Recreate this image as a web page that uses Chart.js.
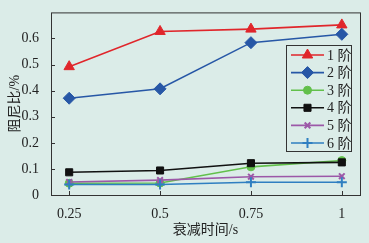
<!DOCTYPE html>
<html>
<head>
<meta charset="utf-8">
<script src="https://cdn.jsdelivr.net/npm/chart.js@4"></script>
<style>
  html, body { margin: 0; padding: 0; background: #dbece8; }
  #wrap { width: 369px; height: 243px; position: relative; }
</style>
</head>
<body>
<div id="wrap"><canvas id="chart"></canvas></div>
<script>
const times = [0.25, 0.5, 0.75, 1];
const xTicks = [0.25, 0.5, 0.75, 1];
const yTicks = [0, 0.1, 0.2, 0.3, 0.4, 0.5, 0.6];
const mode1 = [0.492, 0.627, 0.636, 0.652];
const mode2 = [0.371, 0.407, 0.584, 0.616];
const mode3 = [0.045, 0.046, 0.108, 0.132];
const mode4 = [0.087, 0.094, 0.122, 0.125];
const mode5 = [0.050, 0.057, 0.070, 0.072];
const mode6 = [0.040, 0.040, 0.049, 0.049];
const seriesNames = ['1 阶', '2 阶', '3 阶', '4 阶', '5 阶', '6 阶'];

const serif = '"Liberation Serif", "Noto Sans CJK SC", serif';

function toPoints(arr) {
  return arr.map((v, i) => ({ x: times[i], y: v }));
}

function makeSet(i, data, color, style, r) {
  return {
    label: seriesNames[i],
    data: toPoints(data),
    borderColor: color,
    backgroundColor: color,
    pointStyle: style,
    pointRadius: r,
    pointBorderWidth: style === 'cross' || style === 'crossRot' ? 2 : 1,
    borderWidth: 1.6,
    order: 6 - i   // later series on top
  };
}

// frame, inward ticks and legend box
const framePlugin = {
  id: 'frame',
  afterDraw(chart) {
    const ctx = chart.ctx;
    const a = chart.chartArea;
    const xs = chart.scales.x, ys = chart.scales.y;
    ctx.save();
    ctx.strokeStyle = '#333';
    ctx.lineWidth = 1;
    ctx.strokeRect(a.left + 0.5, a.top + 0.5, a.right - a.left, a.bottom - a.top);
    xTicks.forEach(t => {
      const px = Math.round(xs.getPixelForValue(t)) + 0.5;
      ctx.beginPath(); ctx.moveTo(px, a.bottom); ctx.lineTo(px, a.bottom - 4); ctx.stroke();
    });
    yTicks.forEach(t => {
      const py = Math.round(ys.getPixelForValue(t)) + 0.5;
      ctx.beginPath(); ctx.moveTo(a.left, py); ctx.lineTo(a.left + 4, py); ctx.stroke();
    });

    // legend
    const lx = 286, ly = 45, lw = 65, lh = 106;
    ctx.fillStyle = '#dbece8';
    ctx.fillRect(lx, ly, lw, lh);
    ctx.strokeStyle = '#333';
    ctx.strokeRect(lx + 0.5, ly + 0.5, lw, lh);
    ctx.font = '14px ' + serif;
    ctx.textBaseline = 'middle';
    chart.data.datasets.forEach((ds, i) => {
      const cy = ly + 10 + i * 17.6;
      ctx.strokeStyle = ds.borderColor;
      ctx.lineWidth = 1.6;
      ctx.beginPath(); ctx.moveTo(lx + 5, cy); ctx.lineTo(lx + 38, cy); ctx.stroke();
      ctx.fillStyle = ds.backgroundColor;
      ctx.lineWidth = ds.pointBorderWidth;
      Chart.helpers.drawPoint(ctx, { pointStyle: ds.pointStyle, radius: ds.pointRadius, borderWidth: ds.pointBorderWidth }, lx + 21.5, cy);
      ctx.fillStyle = '#222';
      ctx.fillText(ds.label, lx + 41, cy + 1);
    });
    ctx.restore();
  }
};

new Chart(document.getElementById('chart'), {
  type: 'line',
  data: {
    datasets: [
      makeSet(0, mode1, '#e0262b', 'triangle', 6),
      makeSet(1, mode2, '#2757a6', 'rectRot', 6),
      makeSet(2, mode3, '#62c04b', 'circle', 4),
      makeSet(3, mode4, '#111111', 'rect', 5),
      makeSet(4, mode5, '#9c58a8', 'crossRot', 4),
      makeSet(5, mode6, '#2f7fc1', 'cross', 5)
    ]
  },
  options: {
    responsive: true,
    maintainAspectRatio: false,
    animation: false,
    layout: { padding: { top: 10, right: 9, left: 3, bottom: 0 } },
    plugins: {
      legend: { display: false },
      tooltip: { enabled: false }
    },
    scales: {
      x: {
        type: 'linear',
        min: 0.2,
        max: 1.05,
        afterBuildTicks: s => { s.ticks = xTicks.map(v => ({ value: v })); },
        afterFit: s => { s.height = 48; },
        grid: { display: false },
        border: { display: false },
        ticks: {
          color: '#222',
          font: { family: serif, size: 14 },
          padding: 3,
          maxRotation: 0,
          callback: v => String(v)
        },
        title: {
          display: true,
          text: '衰减时间/s',
          color: '#222',
          font: { family: serif, size: 14 },
          padding: { top: 0 }
        }
      },
      y: {
        min: 0,
        max: 0.7,
        afterBuildTicks: s => { s.ticks = yTicks.map(v => ({ value: v })); },
        afterFit: s => { s.width = 48; },
        grid: { display: false },
        border: { display: false },
        ticks: {
          color: '#222',
          font: { family: serif, size: 14 },
          padding: 4,
          callback: v => String(v)
        },
        title: {
          display: true,
          text: '阻尼比/%',
          color: '#222',
          font: { family: serif, size: 14 },
          padding: { bottom: 0 }
        }
      }
    }
  },
  plugins: [framePlugin]
});
</script>
</body>
</html>
